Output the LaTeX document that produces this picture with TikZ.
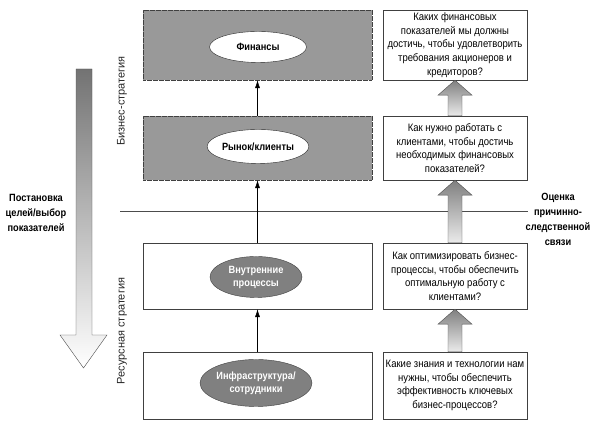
\documentclass[tikz,border=0pt]{standalone}
\usepackage{fontspec}
\setmainfont[FakeStretch=0.88]{Liberation Sans}
\newfontfamily\widefont{Liberation Sans}
\usetikzlibrary{arrows,arrows.meta,shapes.geometric,calc}
\newcommand{\blockarrow}[2]{%
	\shadedraw[draw=black!70,top color=black!50,bottom color=black!8]
		let \p1=(#1.north), \p2=(#2.south) in
		(\x1-7,\y1) -- (\x1-7,\y2-15) -- (\x1-17,\y2-15) -- (\x1,\y2) -- (\x1+17,\y2-15) -- (\x1+7,\y2-15) -- (\x1+7,\y1) -- cycle;}

\begin{document}
\begin{tikzpicture}[x=1pt,y=1pt,
	darkbox/.style={draw=black!75,dash pattern=on 0.6pt off 0.6pt,fill=black!40,minimum width=229pt,inner sep=0pt},
	lightbox/.style={draw=black!75,fill=white,minimum width=229pt,inner sep=0pt},
	whiteoval/.style={ellipse,solid,draw=black!85,fill=white,minimum width=97pt,inner sep=0pt,font=\fontsize{10.5}{13}\selectfont\bfseries},
	grayoval/.style={ellipse,draw=black!75,fill=black!50,text=white,minimum width=92pt,inner sep=0pt,align=center,font=\fontsize{10.5}{13}\selectfont\bfseries},
	question/.style={draw=black!75,fill=white,minimum width=144pt,align=center,inner sep=0pt,font=\fontsize{10.8}{13.7}\selectfont},
	sidetext/.style={align=center,font=\fontsize{10.5}{15}\selectfont\bfseries},
	flow/.style={-{Latex[length=8pt,width=5pt]},black}]
	\useasboundingbox (0,0) rectangle (598,430);
	\shadedraw[draw=black!70,top color=black!55,bottom color=white] (76,361) -- (76,95) -- (60,95) -- (83.5,62) -- (107,95) -- (92,95) -- (92,361) -- cycle;
	\node[sidetext] (goals) at (36,217) {Постановка\\целей/выбор\\показателей};
	\node[rotate=90,font=\widefont\fontsize{11}{13}\selectfont,black!85] (biz) at (122,329) {Бизнес-стратегия};
	\node[rotate=90,font=\widefont\fontsize{11}{13}\selectfont,black!85] (res) at (122,99) {Ресурсная стратегия};
	\coordinate (lineL) at (120,218);
	\coordinate (lineR) at (528,218);
	\draw[black!70,line width=1pt] (lineL) -- (lineR);
	\node[sidetext] (cause) at (558,211) {Оценка\\причинно-\\следственной\\связи};
	\node[darkbox,minimum height=70pt] (fin) at (257.5,385) {};
	\node[darkbox,minimum height=64pt] (mkt) at (257.5,282) {};
	\node[lightbox,minimum height=66pt] (proc) at (257.5,154) {};
	\node[lightbox,minimum height=67pt] (infr) at (257.5,44.5) {};
	\node[whiteoval,minimum height=31pt] (ofin) at (258,383) {Финансы};
	\node[whiteoval,minimum height=34pt] (omkt) at (258,283.5) {Рынок/клиенты};
	\node[grayoval,minimum height=41pt] (oproc) at (256,153) {Внутренние\\процессы};
	\node[grayoval,minimum height=47pt] (oinfr) at (256,47) {Инфраструктура/\\сотрудники};
	\draw[flow] (mkt.north) -- (fin.south);
	\draw[flow] (proc.north) -- (mkt.south);
	\draw[flow] (infr.north) -- (proc.south);
	\node[question,minimum height=70pt] (qfin) at (455,385) {Каких финансовых\\показателей мы должны\\достичь, чтобы удовлетворить\\требования акционеров и\\кредиторов?};
	\node[question,minimum height=64pt] (qmkt) at (455,282) {Как нужно работать с\\клиентами, чтобы достичь\\необходимых финансовых\\показателей?};
	\node[question,minimum height=66pt] (qproc) at (455,154) {Как оптимизировать бизнес-\\процессы, чтобы обеспечить\\оптимальную работу с\\клиентами?};
	\node[question,minimum height=67pt] (qinfr) at (455,44.5) {Какие знания и технологии нам\\нужны, чтобы обеспечить\\эффективность ключевых\\бизнес-процессов?};
	\blockarrow{qmkt}{qfin}
	\blockarrow{qproc}{qmkt}
	\blockarrow{qinfr}{qproc}
\end{tikzpicture}
\end{document}
